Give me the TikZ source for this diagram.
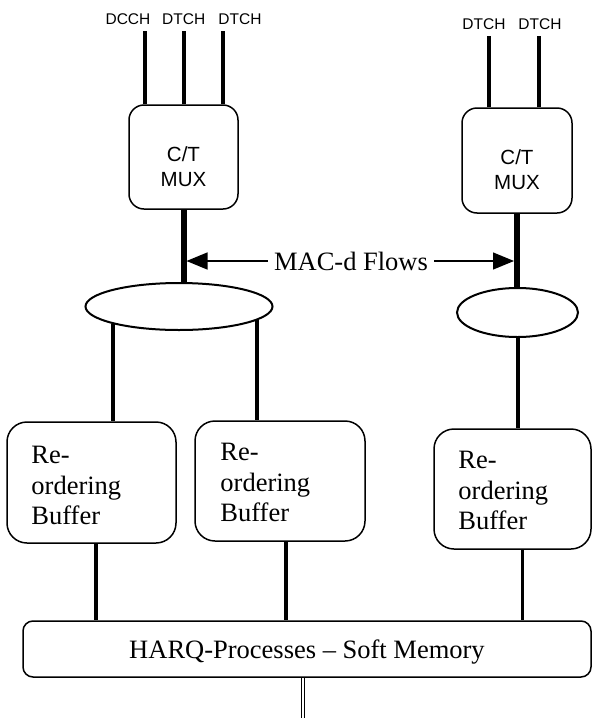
\documentclass[tikz,border=0pt]{standalone}
\usepackage{fontspec}
\setmainfont{Liberation Serif}
\setsansfont{Liberation Sans}
\usetikzlibrary{positioning, shapes.geometric, arrows.meta}

\begin{document}
\begin{tikzpicture}[x=1pt, y=-1pt,
    mux/.style={draw, line width=1.5pt, rounded corners=15pt, inner sep=0pt},
    buffer/.style={draw, line width=1.5pt, rounded corners=20pt, inner sep=0pt},
    flow/.style={draw, ellipse, line width=2pt, inner sep=0pt},
    chan/.style={font=\fontsize{15.5}{18}\sffamily, inner sep=6.5pt},
    muxtext/.style={font=\fontsize{20.5}{25}\sffamily, align=center, inner sep=0pt},
    buftext/.style={font=\fontsize{26.5}{30.5}\selectfont, align=left, inner sep=0pt},
    wire/.style={line width=4pt},
    trunk/.style={line width=6pt},
    >={Triangle[length=21pt, width=17pt]}]
  \useasboundingbox (0,0) rectangle (592,718);

  % C/T multiplexers
  \node[mux, minimum width=109pt, minimum height=104pt] (muxL) at (183.5,157) {};
  \node[muxtext] (muxLtxt) at ([yshift=-10pt]muxL.center) {C/T\\MUX};
  \node[mux, minimum width=110pt, minimum height=105pt] (muxR) at (517,160.5) {};
  \node[muxtext] (muxRtxt) at ([yshift=-9.5pt]muxR.center) {C/T\\MUX};

  % logical channels
  \node[chan] (dcch) at (128,18.7) {DCCH};
  \node[chan] (dtchA) at (183.7,18.7) {DTCH};
  \node[chan] (dtchB) at (240,18.7) {DTCH};
  \node[chan] (dtchC) at (484,24) {DTCH};
  \node[chan] (dtchD) at (540,24) {DTCH};
  \draw[wire] ([xshift=-38.5pt]muxL.north) -- ([xshift=-38.5pt]muxL.north |- dcch.south);
  \draw[wire] (muxL.north) -- (muxL.north |- dtchA.south);
  \draw[wire] ([xshift=39.5pt]muxL.north) -- ([xshift=39.5pt]muxL.north |- dtchB.south);
  \draw[wire] ([xshift=-28pt]muxR.north) -- ([xshift=-28pt]muxR.north |- dtchC.south);
  \draw[wire] ([xshift=22pt]muxR.north) -- ([xshift=22pt]muxR.north |- dtchD.south);

  % MAC-d flows
  \node[flow, minimum width=187pt, minimum height=47pt] (ellL) at (179,306.5) {};
  \node[flow, minimum width=121pt, minimum height=49pt] (ellR) at (517.5,312.5) {};
  \draw[trunk] (muxL.south) -- (muxL.south |- ellL.north);
  \draw[trunk] (muxR.south) -- (muxR.south |- ellR.north);
  \node[font=\fontsize{26.5}{30}\selectfont, inner xsep=6pt] (flows) at (351,261) {MAC-d Flows};
  \draw[->, line width=1.3pt, shorten >=3pt] (flows.west) -- (flows.west -| muxL.south);
  \draw[->, line width=1.3pt, shorten >=3pt] (flows.east) -- (flows.east -| muxR.south);

  % re-ordering buffers
  \node[buffer, minimum width=169pt, minimum height=121pt] (bufA) at (91.5,482.5) {};
  \node[buffer, minimum width=170pt, minimum height=120pt] (bufB) at (280,481) {};
  \node[buffer, minimum width=157pt, minimum height=120pt] (bufC) at (512.5,489) {};
  \node[buftext, below right=25pt and 25pt of bufA.north west] (txtA) {Re-\\ordering\\Buffer};
  \node[buftext, below right=23pt and 26pt of bufB.north west] (txtB) {Re-\\ordering\\Buffer};
  \node[buftext, below right=23pt and 25pt of bufC.north west] (txtC) {Re-\\ordering\\Buffer};
  \draw[wire] (ellL.195) -- (ellL.195 |- bufA.north);
  \draw[wire] (ellL.350) -- (ellL.350 |- bufB.north);
  \draw[wire] (ellR.south) -- (ellR.south |- bufC.north);

  % HARQ
  \node[draw, line width=1.5pt, rounded corners=10pt, minimum width=568pt, minimum height=56pt,
    text depth=0pt, font=\fontsize{26.5}{30}\selectfont] (harq) at (307,649) {HARQ-Processes -- Soft Memory};
  \draw[wire] ([xshift=4.5pt]bufA.south) -- ([xshift=4.5pt]bufA.south |- harq.north);
  \draw[wire] ([xshift=6pt]bufB.south) -- ([xshift=6pt]bufB.south |- harq.north);
  \draw[line width=3pt] ([xshift=10pt]bufC.south) -- ([xshift=10pt]bufC.south |- harq.north);
  \coordinate (tail) at (303,718);
  \draw[double, line width=1pt, double distance=2.5pt] (harq.south -| tail) -- (tail);
\end{tikzpicture}
\end{document}
